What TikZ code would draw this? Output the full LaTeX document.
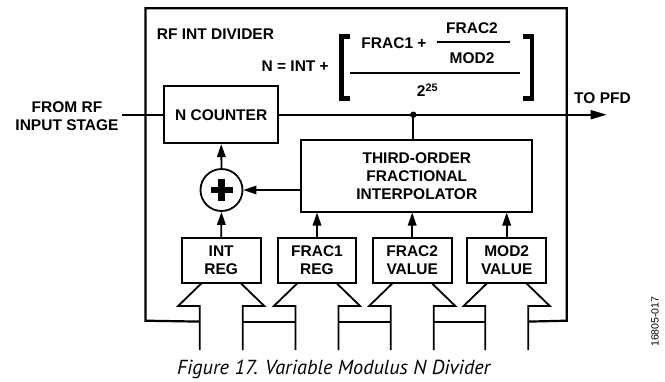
\documentclass[tikz,border=0pt]{standalone}
\usepackage{fontspec}
\setmainfont{Liberation Sans}
\newfontfamily\capfont{PT Sans}
\usetikzlibrary{arrows.meta,calc}
\begin{document}
\begin{tikzpicture}[x=1pt,y=-1pt,
  every node/.style={font=\fontsize{15.5}{18}\selectfont\bfseries, align=center, inner sep=0pt},
  blk/.style={draw, line width=1.8pt, rectangle},
  conn/.style={line width=1.8pt},
  arr/.style={line width=1.8pt, -{Triangle[length=13pt,width=8.5pt]}},
  outer/.style={line width=2.2pt},
  brk/.style={line width=4.6pt},
  frl/.style={line width=2pt}]
\useasboundingbox (0,0) rectangle (665,381);

% outer label
\node[anchor=west] (title) at (156.7,33.7) {RF INT DIVIDER};

% equation
\node[anchor=east] (eqn) at (329,66) {N = INT +};
\draw[brk] (350,36.3) -- (341.2,36.3) -- (341.2,98.5) -- (350,98.5);
\draw[brk] (523,36.3) -- (532,36.3) -- (532,98.5) -- (523,98.5);
\node (f1) at (394,43.3) {FRAC1 +};
\draw[frl] (436.7,42.3) coordinate (sfl) -- (510,42.3) coordinate (sfr);
\node (f2) at (472,28.3) {FRAC2};
\node (m2) at (472,58.3) {MOD2};
\draw[frl] (350,72.7) coordinate (bfl) -- (520,72.7) coordinate (bfr);
\node (p25) at (427.5,90) {2\textsuperscript{25}};

% blocks
\node[blk, minimum width=114pt, minimum height=57pt] (nc) at (221.2,114.7) {N COUNTER};
\node[blk, minimum width=231pt, minimum height=71.7pt] (tfi) at (416.8,175.8) {THIRD-ORDER\\FRACTIONAL\\INTERPOLATOR};
\node[draw, circle, line width=1.8pt, minimum size=42pt] (plus) at (221.5,190) {};
\fill (plus.center) ++(-3.2,-11) rectangle ++(6.4,22);
\fill (plus.center) ++(-11,-3.2) rectangle ++(22,6.4);
\node[blk, minimum width=79pt, minimum height=45pt] (intreg) at (221.2,260.2) {INT\\REG};
\node[blk, minimum width=78pt, minimum height=45pt] (frac1reg) at (317,260.2) {FRAC1\\REG};
\node[blk, minimum width=79pt, minimum height=45pt] (frac2val) at (412.2,260.2) {FRAC2\\VALUE};
\node[blk, minimum width=79pt, minimum height=45pt] (mod2val) at (506.7,260.2) {MOD2\\VALUE};

% side labels
\node (from) at (67,116) {FROM RF\\INPUT STAGE};
\node (topfd) at (602.5,98) {TO PFD};
\coordinate (inl) at (122,114.7);
\coordinate (outr) at (606.7,114.7);
\coordinate (dot) at (413.3,114.7);

% connectors
\draw[conn] (inl) -- (nc.west);
\draw[line width=1.8pt, -{Triangle[length=16pt,width=9pt]}] (nc.east) -- (outr);
\fill (dot) circle (3.2pt);
\draw[conn] (dot) -- (dot |- tfi.north);
\draw[arr] (plus.north) -- (nc.south);
\draw[arr] (tfi.west |- plus) -- (plus.east);
\draw[arr] (intreg.north) -- (plus.south);
\foreach \r in {frac1reg,frac2val,mod2val}
  \draw[arr] (\r.north) -- (\r.north |- tfi.south);

% bus arrows
\foreach \r in {intreg,frac1reg,frac2val,mod2val}{
  \draw[conn, line join=miter] ($(\r.south)+(-20,0)$) -- ++(-23,22.3) -- ++(21.5,0) -- ++(0,44.3);
  \draw[conn, line join=miter] ($(\r.south)+(20,0)$) -- ++(23,22.3) -- ++(-21.5,0) -- ++(0,44.3);
  \coordinate (\r-L) at ($(\r.south)+(-21.5,38)$);
  \coordinate (\r-R) at ($(\r.south)+(21.5,38)$);
}
\draw[outer, line join=miter] (intreg-L) -- (145.5,320.7) -- (145.5,8.3) -- (566.7,8.3) -- (566.7,320.7) -- (mod2val-R);
\draw[outer] (intreg-R) -- (frac1reg-L);
\draw[outer] (frac1reg-R) -- (frac2val-L);
\draw[outer] (frac2val-R) -- (mod2val-L);

% caption and code
\node[font=\capfont\itshape\fontsize{20.3}{22}\selectfont] (cap) at (333.8,369) {Figure 17. Variable Modulus N Divider};
\node[font=\fontsize{10.5}{12}\selectfont, rotate=90] (code) at (655,321.7) {16805-017};
\end{tikzpicture}
\end{document}
